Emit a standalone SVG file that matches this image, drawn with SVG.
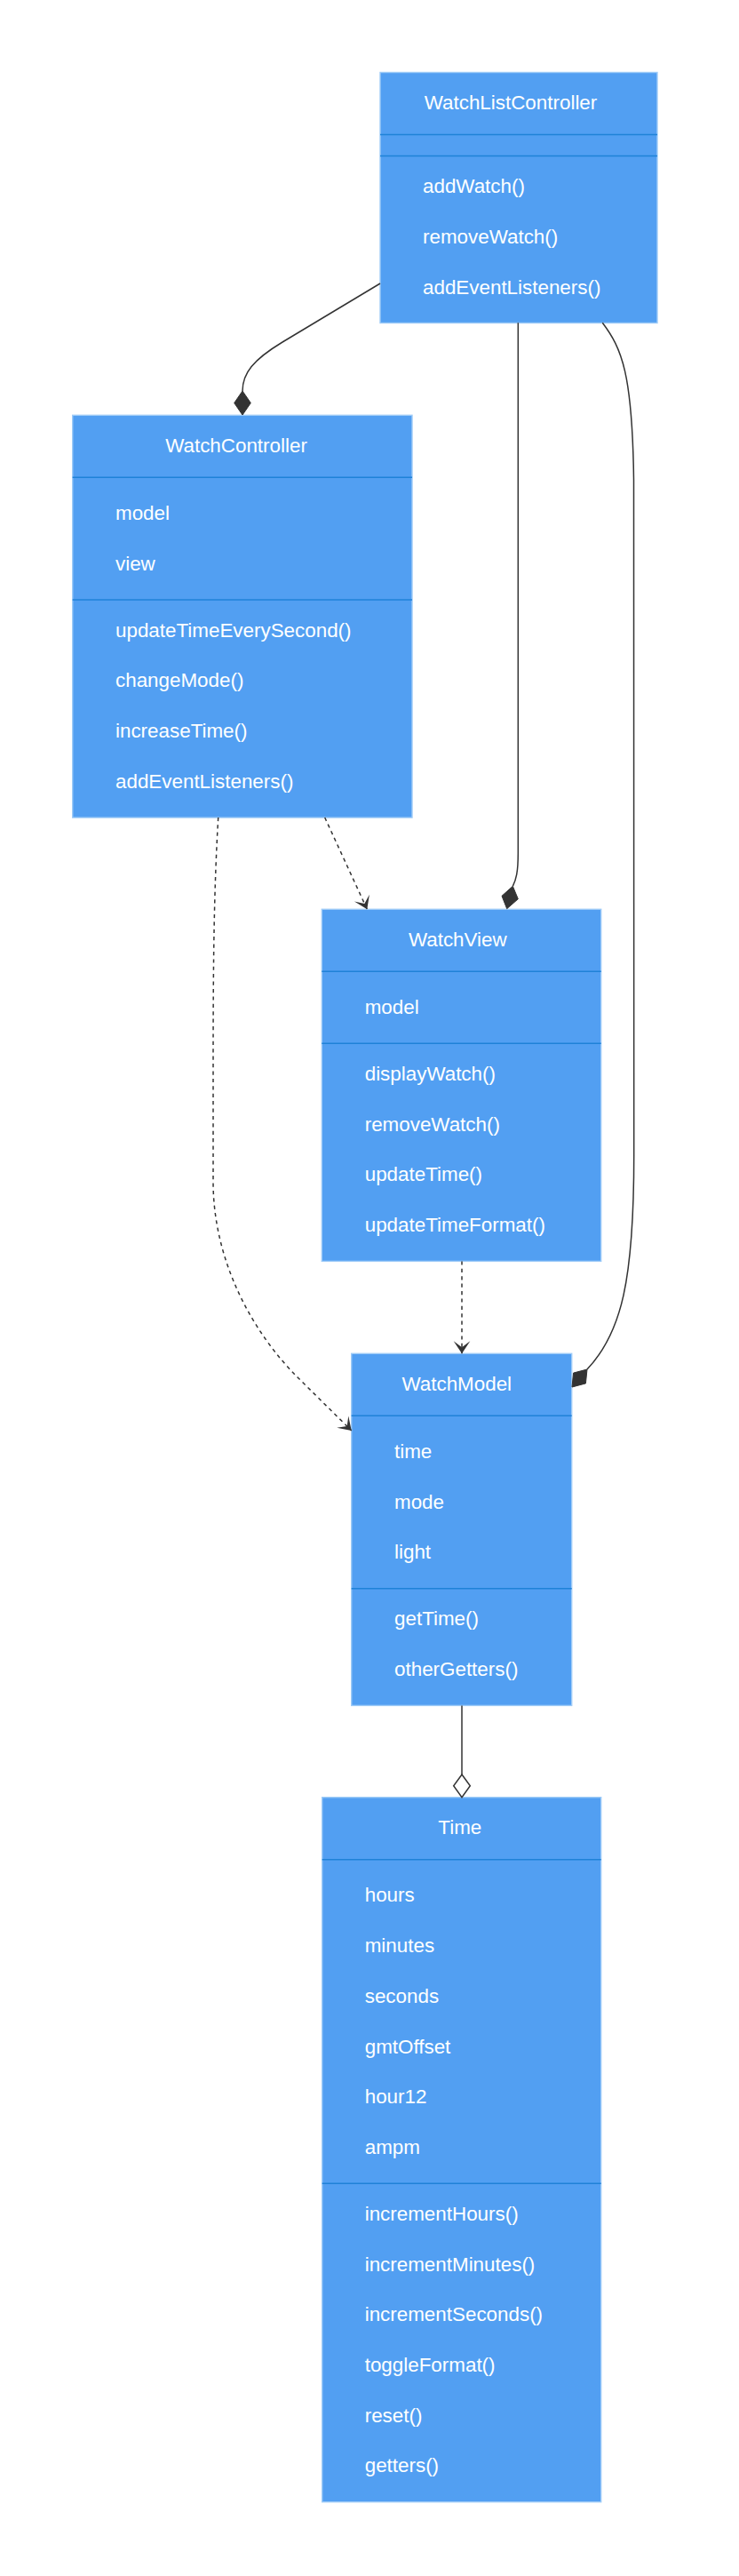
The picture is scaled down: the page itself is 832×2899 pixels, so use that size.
<svg xmlns="http://www.w3.org/2000/svg" width="832" height="2899" viewBox="0 0 832 2899">
<style>
.box{fill:#529ff2;stroke:#9ecbf7;stroke-width:1.4}
.div{stroke:#1f82d8;stroke-width:1.6}
text{font-family:"Liberation Sans",Arial,sans-serif;font-size:22.4px;fill:#ffffff}
.t{text-anchor:middle}
.edge{fill:none;stroke:#333333;stroke-width:1.5}
.dash{stroke-dasharray:4.2,4.2}
.filled{fill:#333333;stroke:#333333;stroke-width:1}
.hollow{fill:#ffffff;stroke:#333333;stroke-width:1.5}
</style>
<defs>
<marker id="dep" markerUnits="userSpaceOnUse" markerWidth="20" markerHeight="22" viewBox="-16 -11 18 22" refX="0" refY="0" orient="auto">
<path d="M0,0 L-14,-9.3 L-7,0 L-14,9.3 Z" fill="#333333"/>
</marker>
</defs>
<rect width="832" height="2899" fill="#ffffff"/>

<g id="WatchListController">
<rect class="box" x="428" y="81.5" width="312" height="282"/>
<line class="div" x1="428" y1="151.5" x2="740" y2="151.5"/>
<line class="div" x1="428" y1="175.5" x2="740" y2="175.5"/>
<text class="t" x="575" y="123.2">WatchListController</text>
<text x="476" y="217.2">addWatch()</text>
<text x="476" y="273.9">removeWatch()</text>
<text x="476" y="330.6">addEventListeners()</text>
</g>

<g id="WatchController">
<rect class="box" x="81.7" y="467.3" width="382.3" height="452.8"/>
<line class="div" x1="81.7" y1="537.3" x2="464" y2="537.3"/>
<line class="div" x1="81.7" y1="675" x2="464" y2="675"/>
<text class="t" x="266" y="509">WatchController</text>
<text x="130" y="585">model</text>
<text x="130" y="641.7">view</text>
<text x="130" y="716.7">updateTimeEverySecond()</text>
<text x="130" y="773.4">changeMode()</text>
<text x="130" y="830.1">increaseTime()</text>
<text x="130" y="886.8">addEventListeners()</text>
</g>

<g id="WatchView">
<rect class="box" x="362.3" y="1023.3" width="314.4" height="396.1"/>
<line class="div" x1="362.3" y1="1093.3" x2="676.7" y2="1093.3"/>
<line class="div" x1="362.3" y1="1174.3" x2="676.7" y2="1174.3"/>
<text class="t" x="515.3" y="1065">WatchView</text>
<text x="410.7" y="1141">model</text>
<text x="410.7" y="1216">displayWatch()</text>
<text x="410.7" y="1272.7">removeWatch()</text>
<text x="410.7" y="1329.4">updateTime()</text>
<text x="410.7" y="1386.1">updateTimeFormat()</text>
</g>

<g id="WatchModel">
<rect class="box" x="395.7" y="1523.3" width="248" height="396.1"/>
<line class="div" x1="395.7" y1="1593.3" x2="643.7" y2="1593.3"/>
<line class="div" x1="395.7" y1="1787.7" x2="643.7" y2="1787.7"/>
<text class="t" x="514.3" y="1565">WatchModel</text>
<text x="444" y="1641">time</text>
<text x="444" y="1697.7">mode</text>
<text x="444" y="1754.4">light</text>
<text x="444" y="1829.4">getTime()</text>
<text x="444" y="1886.1">otherGetters()</text>
</g>

<g id="Time">
<rect class="box" x="362.7" y="2022.7" width="314" height="793"/>
<line class="div" x1="362.7" y1="2092.7" x2="676.7" y2="2092.7"/>
<line class="div" x1="362.7" y1="2457.2" x2="676.7" y2="2457.2"/>
<text class="t" x="517.8" y="2064.4">Time</text>
<text x="410.7" y="2140.4">hours</text>
<text x="410.7" y="2197.1">minutes</text>
<text x="410.7" y="2253.8">seconds</text>
<text x="410.7" y="2310.5">gmtOffset</text>
<text x="410.7" y="2367.2">hour12</text>
<text x="410.7" y="2423.9">ampm</text>
<text x="410.7" y="2498.9">incrementHours()</text>
<text x="410.7" y="2555.6">incrementMinutes()</text>
<text x="410.7" y="2612.3">incrementSeconds()</text>
<text x="410.7" y="2669">toggleFormat()</text>
<text x="410.7" y="2725.7">reset()</text>
<text x="410.7" y="2782.4">getters()</text>
</g>

<g id="connectors">
<path class="edge" d="M428,319 L318,385 C285,405 273,420 273,440"/>
<polygon class="filled" points="273,440 282.3,453.5 273,467 263.7,453.5"/>

<path class="edge" d="M583.3,363.3 L583.3,960 C583.3,982 581,990 577.3,997.3"/>
<polygon class="filled" points="577.3,997.3 583.3,1011.7 570.7,1022.7 565,1008.3"/>

<path class="edge" d="M678.3,363.3 C700,392 712,420 713.5,540 L713.7,1300 C713.7,1440 700,1500 661,1541"/>
<polygon class="filled" points="661,1541 659.4,1556.9 644,1561 645.6,1545.1"/>

<path class="edge dash" d="M365.7,920 L413.3,1023.3" marker-end="url(#dep)"/>

<path class="edge dash" d="M520,1419.4 L520,1523.3" marker-end="url(#dep)"/>

<path class="edge dash" d="M245.7,920 C241,1000 240,1080 240,1200 L240,1330 C240,1420 285,1500 335,1550 L395.7,1610" marker-end="url(#dep)"/>

<path class="edge" d="M520,1919.4 L520,1997"/>
<polygon class="hollow" points="520,1997 529.3,2009.8 520,2022.7 510.7,2009.8"/>
</g>
</svg>
